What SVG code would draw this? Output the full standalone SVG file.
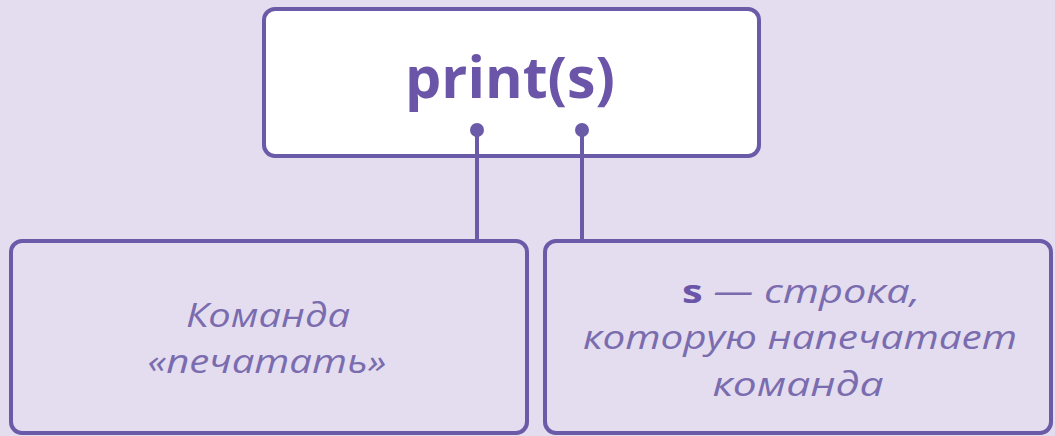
<svg xmlns="http://www.w3.org/2000/svg" width="1055" height="436" viewBox="0 0 1055 436">
<style>
.box{stroke:#6B5AA8;stroke-width:4}
.lbl{font-family:"Open Sans","Liberation Sans",sans-serif;font-style:italic;font-size:32px;fill:#7A6CAE;text-anchor:middle}
.title{font-family:"Open Sans","Liberation Sans",sans-serif;font-weight:bold;font-size:58px;fill:#6A55A8;text-anchor:middle}
.conn{stroke:#6B5AA8;stroke-width:4;fill:none}
.dot{fill:#6B5AA8}
</style>
<rect width="1055" height="436" fill="#E3DDEF"/>
<g id="node-print">
<rect class="box" x="264" y="9" width="495" height="147" rx="11" fill="#FFFFFF"/>
<text class="title" x="510" y="98" textLength="210" lengthAdjust="spacingAndGlyphs">print(s)</text>
</g>
<g id="node-command">
<rect class="box" x="11" y="241" width="516" height="192" rx="11" fill="none"/>
<text class="lbl" x="268" y="327" textLength="164" lengthAdjust="spacingAndGlyphs">Команда</text>
<text class="lbl" x="267" y="373" textLength="239" lengthAdjust="spacingAndGlyphs">«печатать»</text>
</g>
<g id="node-string">
<rect class="box" x="545" y="241" width="506" height="192" rx="11" fill="none"/>
<text class="lbl" x="801" y="303" textLength="238" lengthAdjust="spacingAndGlyphs"><tspan font-weight="bold" font-style="normal" fill="#6A55A8">s</tspan> — строка,</text>
<text class="lbl" x="800" y="349" textLength="434" lengthAdjust="spacingAndGlyphs">которую напечатает</text>
<text class="lbl" x="798" y="396" textLength="171" lengthAdjust="spacingAndGlyphs">команда</text>
</g>
<g id="connectors">
<line class="conn" x1="477" y1="130" x2="477" y2="241"/>
<line class="conn" x1="582" y1="130" x2="582" y2="241"/>
<circle class="dot" cx="477" cy="130" r="7"/>
<circle class="dot" cx="582" cy="130" r="7"/>
</g>
</svg>
